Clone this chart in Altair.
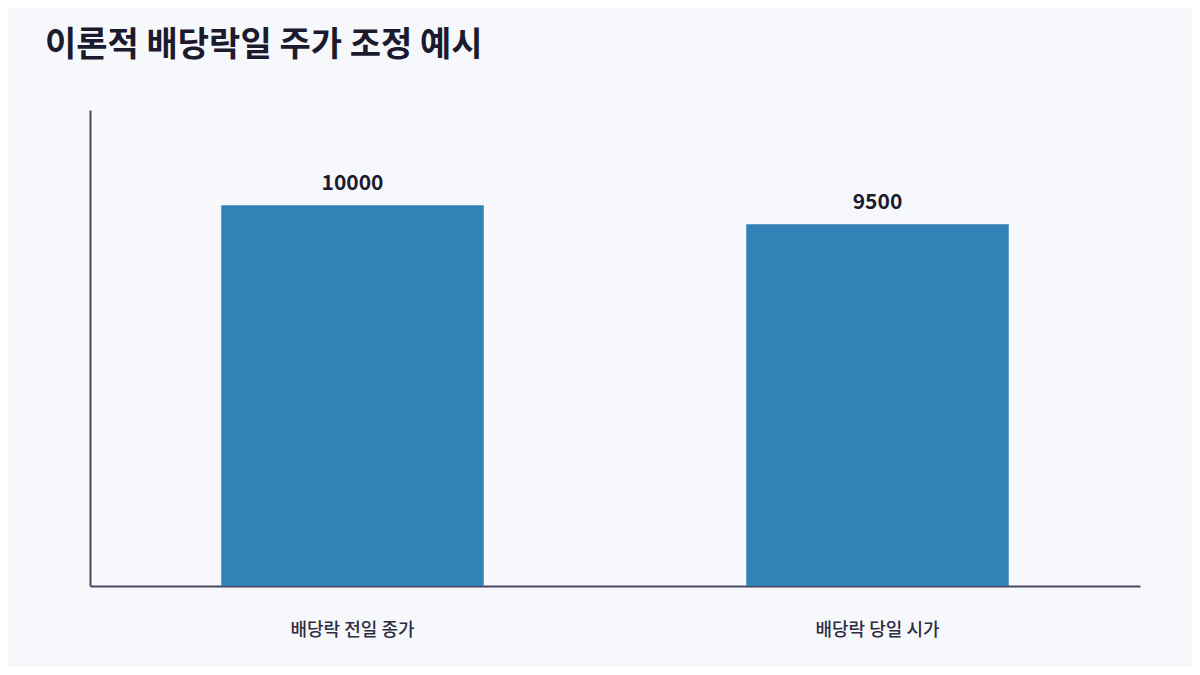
import altair as alt
import pandas as pd

categories = ["배당락 전일 종가", "배당락 당일 시가"]
prices = [10000, 9500]

df = pd.DataFrame({"구분": categories, "주가": prices})

FONT = "Noto Sans CJK KR"

base = alt.Chart(df).encode(
    x=alt.X(
        "구분:N",
        sort=categories,
        title=None,
        scale=alt.Scale(paddingInner=0.5, paddingOuter=0.25),
        axis=alt.Axis(
            labelAngle=0,
            ticks=False,
            domainColor="#4a4766",
            domainWidth=2,
            labelFont=FONT,
            labelFontSize=18,
            labelFontWeight=500,
            labelColor="#2d2d3f",
            labelPadding=35,
        ),
    ),
    y=alt.Y(
        "주가:Q",
        title=None,
        scale=alt.Scale(domain=[0, 12500], nice=False),
        axis=alt.Axis(
            labels=False,
            ticks=False,
            grid=False,
            domainColor="#4a4766",
            domainWidth=2,
        ),
    ),
)

bars = base.mark_bar(color="#3282b8")
text = base.mark_text(
    baseline="bottom",
    dy=-11,
    font=FONT,
    fontSize=21,
    fontWeight="bold",
    color="#1c1b2e",
).encode(text=alt.Text("주가:Q", format="d"))

chart = (
    alt.layer(bars, text)
    .properties(
        width=1050,
        height=476,
        title=alt.TitleParams(
            "이론적 배당락일 주가 조정 예시",
            anchor="start",
            frame="group",
            font=FONT,
            fontSize=34,
            fontWeight="bold",
            color="#1c1b2e",
            dx=-45,
            offset=47,
        ),
        background="#f7f8fc",
        padding={"left": 82, "top": 102, "right": 52, "bottom": 81},
        autosize=alt.AutoSizeParams(type="none"),
    )
    .configure_view(stroke=None)
)

chart.save("out.html", embed_options={"renderer": "svg", "actions": False})
